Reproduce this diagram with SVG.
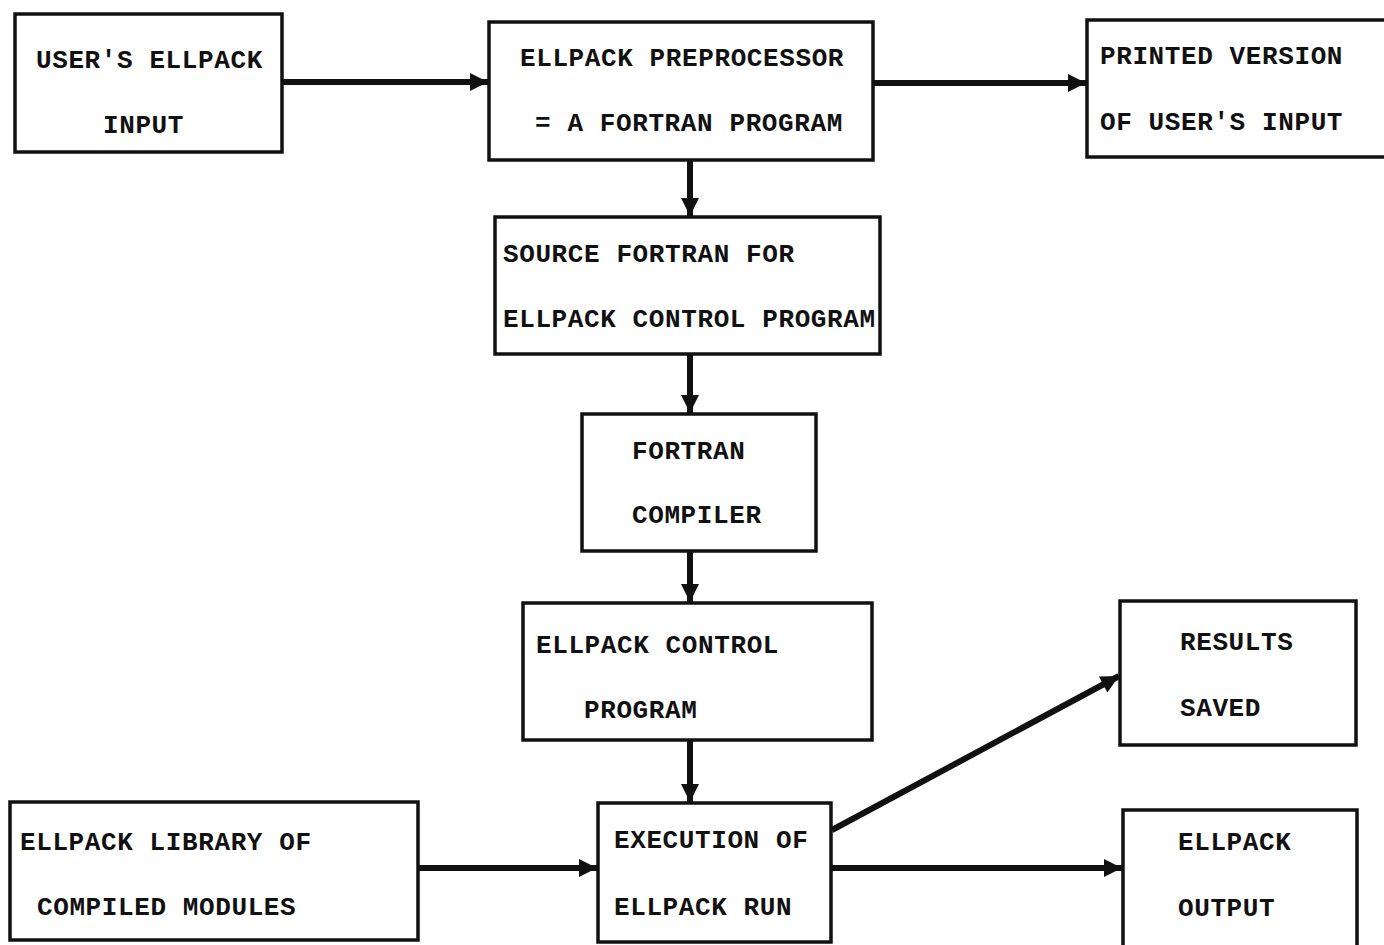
<svg xmlns="http://www.w3.org/2000/svg" width="1384" height="945" viewBox="0 0 1384 945">
<style>
.box{fill:#fff;stroke:#111;stroke-width:3.5}
.t{font-family:"Liberation Mono","Courier New",monospace;font-size:26px;font-weight:bold;letter-spacing:0.6px;fill:#111}
.c{stroke:#111;stroke-width:6;fill:none}
</style>
<defs>
<marker id="ah" viewBox="0 0 10 10" refX="10" refY="5" markerWidth="3.6" markerHeight="3" orient="auto" markerUnits="strokeWidth">
<path d="M0,0 L10,5 L0,10 z" fill="#111"/>
</marker>
</defs>
<rect width="1384" height="945" fill="#fff"/>
<g id="connectors">
<line class="c" x1="283" y1="82" x2="488" y2="82" marker-end="url(#ah)"/>
<line class="c" x1="874" y1="83" x2="1086" y2="83" marker-end="url(#ah)"/>
<line class="c" x1="690" y1="161" x2="690" y2="216" marker-end="url(#ah)"/>
<line class="c" x1="690" y1="355" x2="690" y2="413" marker-end="url(#ah)"/>
<line class="c" x1="690" y1="552" x2="690" y2="602" marker-end="url(#ah)"/>
<line class="c" x1="690" y1="741" x2="690" y2="802" marker-end="url(#ah)"/>
<line class="c" x1="419" y1="868" x2="597" y2="868" marker-end="url(#ah)"/>
<line class="c" x1="832" y1="868" x2="1122" y2="868" marker-end="url(#ah)"/>
<line class="c" x1="832" y1="830" x2="1119" y2="676" marker-end="url(#ah)"/>
</g>
<g id="n1"><rect class="box" x="15" y="14" width="267" height="138"/><text class="t" x="36" y="68">USER'S ELLPACK</text><text class="t" x="103" y="133">INPUT</text></g>
<g id="n2"><rect class="box" x="489" y="22" width="384" height="138"/><text class="t" x="520" y="66">ELLPACK PREPROCESSOR</text><text class="t" x="535" y="131">= A FORTRAN PROGRAM</text></g>
<g id="n3"><rect class="box" x="1087" y="20" width="310" height="137"/><text class="t" x="1100" y="64">PRINTED VERSION</text><text class="t" x="1100" y="130">OF USER'S INPUT</text></g>
<g id="n4"><rect class="box" x="495" y="217" width="385" height="137"/><text class="t" x="503" y="262">SOURCE FORTRAN FOR</text><text class="t" x="503" y="327">ELLPACK CONTROL PROGRAM</text></g>
<g id="n5"><rect class="box" x="582" y="414" width="234" height="137"/><text class="t" x="632" y="459">FORTRAN</text><text class="t" x="632" y="523">COMPILER</text></g>
<g id="n6"><rect class="box" x="523" y="603" width="349" height="137"/><text class="t" x="536" y="653">ELLPACK  CONTROL</text><text class="t" x="584" y="718">PROGRAM</text></g>
<g id="n7"><rect class="box" x="1120" y="601" width="236" height="144"/><text class="t" x="1180" y="650">RESULTS</text><text class="t" x="1180" y="716">SAVED</text></g>
<g id="n8"><rect class="box" x="10" y="802" width="408" height="138"/><text class="t" x="20" y="850">ELLPACK LIBRARY OF</text><text class="t" x="37" y="915">COMPILED MODULES</text></g>
<g id="n9"><rect class="box" x="598" y="803" width="233" height="139"/><text class="t" x="614" y="848">EXECUTION OF</text><text class="t" x="614" y="915">ELLPACK RUN</text></g>
<g id="n10"><rect class="box" x="1123" y="810" width="234" height="150"/><text class="t" x="1178" y="850">ELLPACK</text><text class="t" x="1178" y="916">OUTPUT</text></g>
</svg>
